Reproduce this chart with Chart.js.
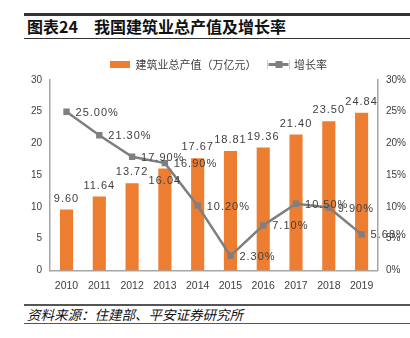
<!DOCTYPE html>
<html>
<head>
<meta charset="utf-8">
<script src="https://cdn.jsdelivr.net/npm/chart.js@4.4.0/dist/chart.umd.min.js"></script>
<style>
body{margin:0;background:#fff;width:410px;height:338px;overflow:hidden;position:relative;font-family:"Liberation Sans","Noto Sans CJK SC",sans-serif;}
#titulo{position:absolute;left:24px;right:0;top:13px;height:22px;border-top:3px solid #333;border-bottom:1.5px solid #333;}
#titulo span{position:absolute;top:0;font-family:"Noto Sans CJK SC",sans-serif;font-weight:bold;font-size:16px;color:#111;line-height:21px;}
#fuente{position:absolute;left:24px;right:0;top:304px;height:17px;border-top:2px solid #555;border-bottom:1px solid #555;}
#fuente span{position:absolute;left:3px;top:0;font-family:"Noto Sans CJK SC",sans-serif;font-style:italic;font-size:13.5px;color:#111;line-height:17px;}
#caja{position:absolute;left:0;top:45px;width:410px;height:255px;}
</style>
</head>
<body>
<div id="titulo"><span style="left:3px">图表24</span><span style="left:70px">我国建筑业总产值及增长率</span></div>
<div id="caja"><canvas id="grafico"></canvas></div>
<div id="fuente"><span>资料来源：住建部、平安证券研究所</span></div>
<script>
var anios = ["2010","2011","2012","2013","2014","2015","2016","2017","2018","2019"];
var produccion = [9.60, 11.64, 13.72, 16.04, 17.67, 18.81, 19.36, 21.40, 23.50, 24.84];
var crecimiento = [25.00, 21.30, 17.90, 16.90, 10.20, 2.30, 7.10, 10.50, 9.90, 5.68];
var ticksIzq = [0, 5, 10, 15, 20, 25, 30];
var ticksDer = [0, 5, 10, 15, 20, 25, 30];

var naranja = "#ED7D31";
var gris = "#7F7F7F";

// etiquetas de datos dibujadas sobre los elementos del grafico
var etiquetas = {
    id: "etiquetas",
    afterDatasetsDraw: function(chart)
    {
        var ctx = chart.ctx;
        ctx.save();
        ctx.font = "11px 'Liberation Sans'";
        ctx.fillStyle = "#404040";
        if (ctx.letterSpacing !== undefined) ctx.letterSpacing = "1px";
        ctx.textBaseline = "middle";
        ctx.textAlign = "center";
        chart.getDatasetMeta(0).data.forEach(function(barra, i){
            var y = barra.y - 11;
            if (i === 3) y = barra.y + 12;
            ctx.fillText(produccion[i].toFixed(2), barra.x, y);
        });
        ctx.textAlign = "left";
        chart.getDatasetMeta(1).data.forEach(function(punto, i){
            ctx.fillText(crecimiento[i].toFixed(2) + "%", punto.x + 9, punto.y + 1);
        });
        ctx.restore();
    }
};

// marca cuadrada en la leyenda de la linea
var leyendaLinea = {
    id: "leyendaLinea",
    afterDraw: function(chart)
    {
        var caja = chart.legend.legendHitBoxes[1];
        if (!caja) return;
        var ctx = chart.ctx;
        var cy = caja.top + caja.height / 2;
        ctx.save();
        ctx.fillStyle = "#fff";
        ctx.fillRect(caja.left - 1, caja.top - 1, 22, caja.height + 2);
        ctx.fillStyle = gris;
        ctx.fillRect(caja.left, cy - 1.5, 20, 3);
        ctx.fillRect(caja.left + 7, cy - 3.5, 7, 7);
        ctx.restore();
    }
};

var data = {
    labels: anios,
    datasets: [
        {
            type: "bar",
            label: "建筑业总产值（万亿元）",
            data: produccion,
            backgroundColor: naranja,
            yAxisID: "y",
            categoryPercentage: 0.8,
            barPercentage: 0.5,
            order: 2
        },
        {
            type: "line",
            label: "增长率",
            data: crecimiento,
            borderColor: gris,
            backgroundColor: gris,
            borderWidth: 2.5,
            pointStyle: "rect",
            pointRadius: 4.5,
            pointBackgroundColor: gris,
            pointBorderWidth: 0,
            yAxisID: "y2",
            order: 1
        }
    ]
};

var options = {
    responsive: false,
    animation: false,
    layout: { padding: { left: 27, right: 0, top: 2, bottom: 4 } },
    plugins: {
        tooltip: { enabled: false },
        legend: {
            position: "top",
            labels: {
                boxWidth: 20,
                boxHeight: 7,
                font: { size: 11, family: "'Noto Sans CJK SC'" },
                color: "#404040",
                padding: 12,
                sort: function(a, b){ return a.datasetIndex - b.datasetIndex; }
            }
        }
    },
    scales: {
        x: {
            grid: { display: false, drawTicks: true, tickLength: 5, color: "#A6A6A6" },
            border: { color: "#A6A6A6", width: 1.5 },
            ticks: { color: "#404040", font: { size: 10.5, family: "'Liberation Sans'" }, padding: 4 }
        },
        y: {
            position: "left",
            min: 0,
            max: 30,
            afterBuildTicks: function(eje){ eje.ticks = ticksIzq.map(function(v){ return { value: v }; }); },
            grid: { display: false, drawTicks: true, tickLength: 4, color: "#A6A6A6" },
            border: { color: "#A6A6A6", width: 1.5 },
            ticks: { color: "#404040", font: { size: 10, family: "'Liberation Sans'" }, padding: 4 }
        },
        y2: {
            position: "right",
            min: 0,
            max: 30,
            afterBuildTicks: function(eje){ eje.ticks = ticksDer.map(function(v){ return { value: v }; }); },
            grid: { display: false, drawTicks: true, tickLength: 4, color: "#A6A6A6" },
            border: { color: "#A6A6A6", width: 1.5 },
            ticks: {
                color: "#404040",
                font: { size: 10, family: "'Liberation Sans'" },
                padding: 4,
                callback: function(v){ return v + "%"; }
            }
        }
    }
};

var lienzo = document.getElementById("grafico");
lienzo.width = 410;
lienzo.height = 255;
new Chart(lienzo, {
    data: data,
    options: options,
    plugins: [etiquetas, leyendaLinea]
});
</script>
</body>
</html>
